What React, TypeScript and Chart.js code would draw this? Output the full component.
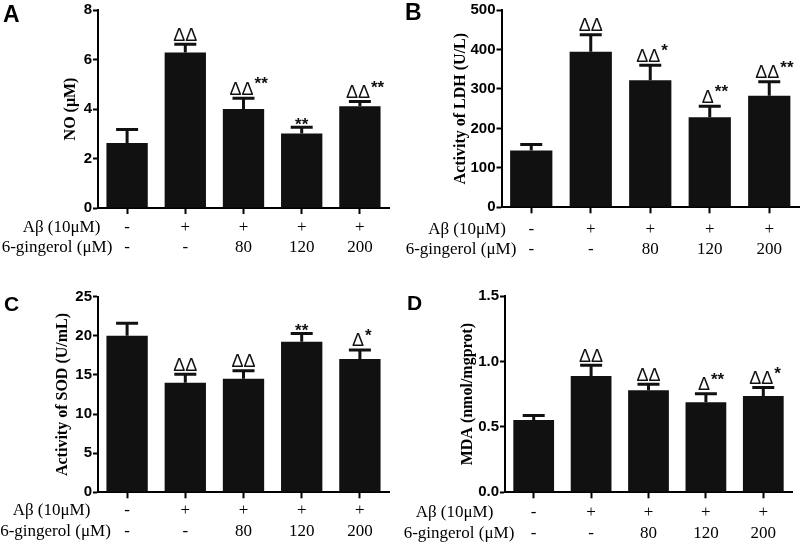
import React, { useEffect, useRef } from "react";
import { Chart, registerables } from "chart.js";
Chart.register(...registerables);

// x categories: [Aβ row, 6-gingerol row]
const abRow = ["-", "+", "+", "+", "+"];
const gingerolRow = ["-", "-", "80", "120", "200"];
const rowTitles = ["Aβ (10μM)", "6-gingerol (μM)"];

// Panel A: NO (μM)
const noValues = [2.63, 6.28, 4.0, 3.01, 4.11];
const noErrors = [0.54, 0.34, 0.43, 0.25, 0.19];
const noDelta = ["", "ΔΔ", "ΔΔ", "", "ΔΔ"];
const noStar = ["", "", "**", "**", "**"];
const noTicks = [0, 2, 4, 6, 8];

// Panel B: LDH (U/L)
const ldhValues = [144, 394, 322, 228, 283];
const ldhErrors = [15, 43, 38, 28, 35];
const ldhDelta = ["", "ΔΔ", "ΔΔ", "Δ", "ΔΔ"];
const ldhStar = ["", "", "*", "**", "**"];
const ldhTicks = [0, 100, 200, 300, 400, 500];

// Panel C: SOD (U/mL)
const sodValues = [20.0, 14.0, 14.5, 19.25, 17.05];
const sodErrors = [1.6, 1.1, 1.05, 1.05, 1.15];
const sodDelta = ["", "ΔΔ", "ΔΔ", "", "Δ"];
const sodStar = ["", "", "", "**", "*"];
const sodTicks = [0, 5, 10, 15, 20, 25];

// Panel D: MDA (nmol/mgprot)
const mdaValues = [0.553, 0.889, 0.779, 0.688, 0.736];
const mdaErrors = [0.033, 0.081, 0.046, 0.066, 0.064];
const mdaDelta = ["", "ΔΔ", "ΔΔ", "Δ", "ΔΔ"];
const mdaStar = ["", "", "", "**", "*"];
const mdaTicks = [0, 0.5, 1.0, 1.5];

const W = 400;
const H = 273;
const BAR = "#111111";

type Layout = {
  left: number; right: number; top: number; bottom: number;
  titleX: number; pad: number; lineH: number;
  rowX: number[]; letterX: number; letterY: number; letterSize: number;
};

type PanelProps = {
  letter: string; yTitle: string; values: number[]; errors: number[];
  deltas: string[]; stars: string[]; ticks: number[]; decimals: number;
  L: Layout; x: number; y: number;
};

function Panel({ letter, yTitle, values, errors, deltas, stars, ticks, decimals, L, x, y }: PanelProps) {
  const ref = useRef<HTMLCanvasElement | null>(null);
  useEffect(() => {
    const TL = 6;
    const labels = abRow.map((a, i) => [a, gingerolRow[i]]);
    const overlay = {
      id: "overlay" + letter,
      afterDatasetsDraw(chart: any) {
        const ctx = chart.ctx;
        const ys = chart.scales.y;
        const meta = chart.getDatasetMeta(0);
        ctx.save();
        meta.data.forEach((bar: any, i: number) => {
          const bx = bar.x;
          const yt = ys.getPixelForValue(values[i] + errors[i]);
          ctx.strokeStyle = BAR;
          ctx.lineWidth = 3;
          ctx.beginPath();
          ctx.moveTo(bx, bar.y);
          ctx.lineTo(bx, yt);
          ctx.moveTo(bx - 11, yt);
          ctx.lineTo(bx + 11, yt);
          ctx.stroke();
          ctx.fillStyle = BAR;
          ctx.textBaseline = "alphabetic";
          const d = deltas[i];
          const s = stars[i];
          if (d) {
            ctx.font = '18px "Liberation Sans"';
            const w = ctx.measureText(d).width;
            const shift = s ? -2 : 0;
            ctx.textAlign = "center";
            ctx.fillText(d, bx + shift, yt - 3.5);
            if (s) {
              ctx.font = 'bold 17px "Liberation Sans"';
              ctx.textAlign = "left";
              ctx.fillText(s, bx + shift + w / 2 + 1, yt - 9);
            }
          } else if (s) {
            ctx.font = 'bold 17px "Liberation Sans"';
            ctx.textAlign = "center";
            ctx.fillText(s, bx, yt + 3);
          }
        });
        ctx.restore();
      },
      afterDraw(chart: any) {
        const ctx = chart.ctx;
        ctx.save();
        ctx.fillStyle = "#000";
        ctx.font = '17px "Liberation Serif"';
        ctx.textAlign = "center";
        ctx.textBaseline = "middle";
        const base = chart.chartArea.bottom + TL + L.pad;
        rowTitles.forEach((t, i) => {
          ctx.fillText(t, L.rowX[i], base + L.lineH * (i + 0.5));
        });
        ctx.font = `bold ${L.letterSize}px "Liberation Sans"`;
        ctx.textAlign = "left";
        ctx.textBaseline = "alphabetic";
        ctx.fillText(letter, L.letterX, L.letterY);
        ctx.restore();
      },
    };
    const chart = new Chart(ref.current as HTMLCanvasElement, {
      type: "bar",
      data: {
        labels,
        datasets: [
          {
            data: values,
            backgroundColor: BAR,
            borderWidth: 0,
            barPercentage: 0.71,
            categoryPercentage: 1,
          },
        ],
      },
      options: {
        responsive: false,
        animation: false,
        events: [],
        layout: { padding: { top: L.top, right: W - L.right, left: 0, bottom: 0 } },
        plugins: { legend: { display: false }, tooltip: { enabled: false } },
        scales: {
          x: {
            offset: true,
            grid: {
              display: true,
              drawOnChartArea: false,
              drawTicks: true,
              tickLength: TL,
              tickWidth: 2,
              tickColor: "#000",
              offset: false,
            },
            border: { display: true, color: "#000", width: 2 },
            ticks: {
              color: "#000",
              font: { family: "Liberation Serif", size: 17, lineHeight: `${L.lineH}px` },
              padding: L.pad,
              maxRotation: 0,
              minRotation: 0,
              autoSkip: false,
            },
            afterFit: (s: any) => {
              s.height = H - L.bottom;
            },
          },
          y: {
            min: ticks[0],
            max: ticks[ticks.length - 1],
            afterBuildTicks: (s: any) => {
              s.ticks = ticks.map((v) => ({ value: v }));
            },
            ticks: {
              color: "#000",
              font: { family: "Liberation Sans", weight: "bold", size: 15 },
              padding: 1,
              callback: (v: any) => Number(v).toFixed(decimals),
            },
            grid: {
              display: true,
              drawOnChartArea: false,
              drawTicks: true,
              tickLength: 5,
              tickWidth: 2,
              tickColor: "#000",
            },
            border: { display: true, color: "#000", width: 2 },
            title: {
              display: true,
              text: yTitle,
              color: "#000",
              font: { family: "Liberation Serif", weight: "bold", size: 16 },
              padding: { top: L.titleX - 9.6, bottom: 0 },
            },
            afterFit: (s: any) => {
              s.width = L.left;
            },
          },
        },
      },
      plugins: [overlay],
    } as any);
    return () => chart.destroy();
  }, []);
  return (
    <canvas
      ref={ref}
      width={W}
      height={H}
      style={{ position: "absolute", left: x, top: y, width: W, height: H }}
    />
  );
}

const layoutA: Layout = { left: 98, right: 389, top: 9.3, bottom: 208, titleX: 71, pad: 3.5, lineH: 20, rowX: [61.5, 57], letterX: 3, letterY: 22, letterSize: 23 };
const layoutB: Layout = { left: 101.5, right: 399, top: 8.3, bottom: 207.3, titleX: 60.5, pad: 6.5, lineH: 20, rowX: [67, 61], letterX: 5, letterY: 20, letterSize: 23 };
const layoutC: Layout = { left: 98, right: 389, top: 23.7, bottom: 219.3, titleX: 62.5, pad: 1.5, lineH: 21, rowX: [51.5, 55.5], letterX: 4, letterY: 38, letterSize: 21 };
const layoutD: Layout = { left: 105, right: 392, top: 23, bottom: 219.3, titleX: 67.5, pad: 4, lineH: 21, rowX: [54.5, 59], letterX: 7, letterY: 37, letterSize: 21 };

export default function App() {
  return (
    <div style={{ position: "fixed", left: 0, top: 0, width: 800, height: 546, background: "#fff" }}>
      <Panel letter="A" yTitle="NO (μM)" values={noValues} errors={noErrors} deltas={noDelta} stars={noStar} ticks={noTicks} decimals={0} L={layoutA} x={0} y={0} />
      <Panel letter="B" yTitle="Activity of LDH (U/L)" values={ldhValues} errors={ldhErrors} deltas={ldhDelta} stars={ldhStar} ticks={ldhTicks} decimals={0} L={layoutB} x={400} y={0} />
      <Panel letter="C" yTitle="Activity of SOD (U/mL)" values={sodValues} errors={sodErrors} deltas={sodDelta} stars={sodStar} ticks={sodTicks} decimals={0} L={layoutC} x={0} y={273} />
      <Panel letter="D" yTitle="MDA (nmol/mgprot)" values={mdaValues} errors={mdaErrors} deltas={mdaDelta} stars={mdaStar} ticks={mdaTicks} decimals={1} L={layoutD} x={400} y={273} />
    </div>
  );
}
